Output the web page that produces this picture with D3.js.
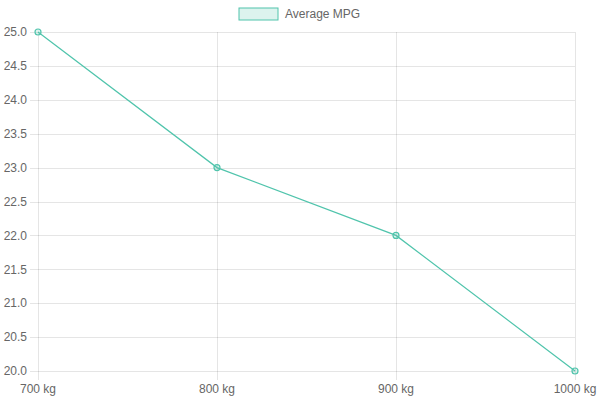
<!DOCTYPE html>
<html>
<head>
<meta charset="utf-8">
<script src="https://cdn.jsdelivr.net/npm/d3@7"></script>
<style>
  body { margin: 0; background: #fff; }
  text { font-family: "Liberation Sans", Arial, sans-serif; font-size: 12px; fill: #666; }
</style>
</head>
<body>
<div id="main"></div>
<script>
const ctx = { w: 600, h: 400 };

// chart values
const categories = ["700 kg", "800 kg", "900 kg", "1000 kg"];
const mpgValues = [25, 23, 22, 20];
const yTicks = [20.0, 20.5, 21.0, 21.5, 22.0, 22.5, 23.0, 23.5, 24.0, 24.5, 25.0];
const seriesName = "Average MPG";

const lineColor = "rgb(80,196,172)";
const fillColor = "rgba(80,196,172,0.2)";
const gridColor = "rgba(0,0,0,0.1)";

let svg = d3.select("#main").append("svg")
    .attr("width", ctx.w)
    .attr("height", ctx.h);

let xScale = d3.scalePoint().domain(categories).range([38, 575]);
let yScale = d3.scaleLinear().domain([20, 25]).range([371, 32]);

// horizontal grid lines + y labels
let yG = svg.append("g");
yG.selectAll("line")
    .data(yTicks)
    .enter()
    .append("line")
    .attr("x1", 30)
    .attr("x2", 575)
    .attr("y1", (d) => Math.round(yScale(d)) + 0.5)
    .attr("y2", (d) => Math.round(yScale(d)) + 0.5)
    .attr("stroke", gridColor)
    .attr("stroke-width", 1);
yG.selectAll("text")
    .data(yTicks)
    .enter()
    .append("text")
    .attr("x", 27)
    .attr("y", (d) => yScale(d))
    .attr("dy", "0.35em")
    .attr("text-anchor", "end")
    .text((d) => d.toFixed(1));

// vertical grid lines + x labels
let xG = svg.append("g");
xG.selectAll("line")
    .data(categories)
    .enter()
    .append("line")
    .attr("x1", (d) => Math.round(xScale(d)) + 0.5)
    .attr("x2", (d) => Math.round(xScale(d)) + 0.5)
    .attr("y1", 32)
    .attr("y2", 380)
    .attr("stroke", gridColor)
    .attr("stroke-width", 1);
xG.selectAll("text")
    .data(categories)
    .enter()
    .append("text")
    .attr("x", (d) => xScale(d))
    .attr("y", 393)
    .attr("text-anchor", "middle")
    .text((d) => d);

// data line
let pts = categories.map((c, i) => [c, mpgValues[i]]);
svg.append("path")
    .datum(pts)
    .attr("fill", "none")
    .attr("stroke", lineColor)
    .attr("stroke-width", 1.2)
    .attr("d", d3.line()
        .x((d) => xScale(d[0]))
        .y((d) => yScale(d[1])));

svg.append("g").selectAll("circle")
    .data(pts)
    .enter()
    .append("circle")
    .attr("cx", (d) => xScale(d[0]))
    .attr("cy", (d) => yScale(d[1]))
    .attr("r", 3)
    .attr("fill", fillColor)
    .attr("stroke", lineColor)
    .attr("stroke-width", 1.2);

// legend
let legG = svg.append("g");
legG.append("rect")
    .attr("x", 239)
    .attr("y", 8)
    .attr("width", 39)
    .attr("height", 12)
    .attr("fill", fillColor)
    .attr("stroke", lineColor)
    .attr("stroke-width", 1);
legG.append("text")
    .attr("x", 285)
    .attr("y", 14)
    .attr("dy", "0.35em")
    .text(seriesName);
</script>
</body>
</html>
